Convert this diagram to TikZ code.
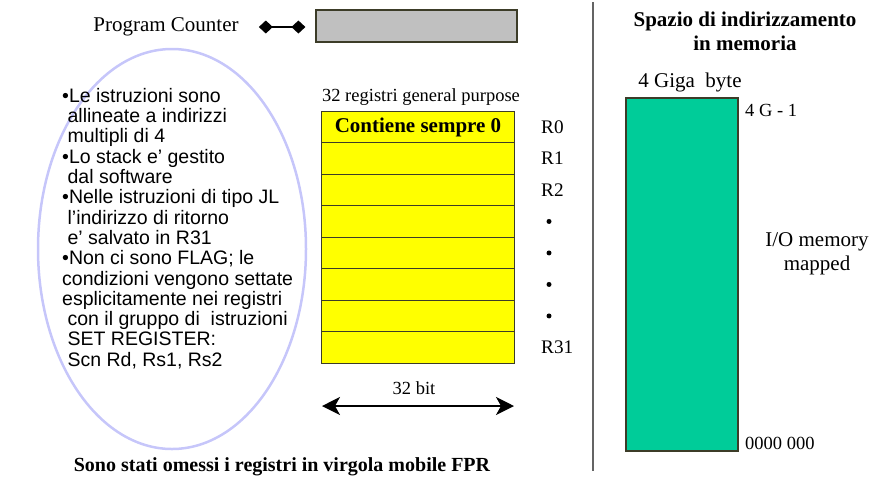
\documentclass[tikz,border=0pt]{standalone}
\usepackage{fontspec}
\setmainfont{Liberation Serif}
\newfontfamily\arialfont{Liberation Sans}
\usetikzlibrary{arrows.meta,shapes.geometric}

\definecolor{regfill}{RGB}{255,255,0}
\definecolor{regedge}{RGB}{60,60,40}
\definecolor{pcfill}{RGB}{192,192,192}
\definecolor{memfill}{RGB}{0,204,153}
\definecolor{ringcol}{RGB}{198,198,250}
\definecolor{sepcol}{RGB}{100,100,100}

\newcommand\leadsp{\hspace*{0.278em}}

\begin{document}
\begin{tikzpicture}[x=1pt,y=-1pt,
  lbl/.style={inner sep=0pt, font=\fontsize{18.5}{22}\selectfont},
  reglbl/.style={inner sep=0pt, font=\fontsize{19.2}{22}\selectfont},
  biglbl/.style={inner sep=0pt, font=\fontsize{21}{24}\selectfont},
  boldlbl/.style={inner sep=0pt, font=\fontsize{21}{24}\selectfont\bfseries},
  regrow/.style={draw=regedge, fill=regfill, line width=1pt,
    minimum width=193pt, minimum height=31.5pt, inner sep=0pt, anchor=north west},
  dotmark/.style={circle, fill=black, inner sep=0pt, minimum size=5pt},
  boxedge/.style={draw=regedge, line width=1.2pt, inner sep=0pt},
  pcconn/.style={line width=2pt, {Diamond[length=14pt,width=13pt]}-{Diamond[length=14pt,width=13pt]}},
  widtharrow/.style={line width=1.8pt, {Stealth[length=18pt,width=18pt,inset=5pt]}-{Stealth[length=18pt,width=18pt,inset=5pt]}},
]
\useasboundingbox (0,0) rectangle (874,480);

% program counter
\node[biglbl] (pclab) at (166,27) {Program Counter};
\node[boxedge, fill=pcfill, minimum width=201pt, minimum height=32pt] (pc) at (416.5,26) {};
\draw[pcconn, shorten <=20pt, shorten >=10pt] (pclab.east) -- (pclab.east -| pc.west);

% notes inside the ellipse
\node[draw=ringcol, line width=2.5pt, ellipse, minimum width=268pt, minimum height=400pt, inner sep=0pt] (ring) at (172,249) {};
\node[anchor=north west, inner sep=0pt, align=left,
      font=\arialfont\fontsize{19.5}{20.3}\selectfont] (notes) at (62,88) {%
•Le istruzioni sono\\
\leadsp allineate a indirizzi\\
\leadsp multipli di 4\\
•Lo stack e’ gestito\\
\leadsp dal software\\
•Nelle istruzioni di tipo JL\\
\leadsp l’indirizzo di ritorno\\
\leadsp e’ salvato in R31\\
•Non ci sono FLAG; le\\
condizioni vengono settate\\
esplicitamente nei registri\\
\leadsp con il gruppo di\ \ istruzioni\\
\leadsp SET REGISTER:\\
\leadsp Scn Rd, Rs1, Rs2};

% general purpose registers
\node[lbl] (gptitle) at (421,97) {32 registri general purpose};
\node[regrow, font=\fontsize{21}{24}\selectfont\bfseries] (r0) at (321,110.7) {Contiene sempre 0};
\foreach \i in {1,...,7}
  \node[regrow] (r\i) at (321,110.7+31.5*\i) {};

\node[reglbl, anchor=west] (lab0) at ([xshift=26pt]r0.east) {R0};
\node[reglbl, anchor=west] (lab1) at ([xshift=26pt]r1.east) {R1};
\node[reglbl, anchor=west] (lab2) at ([xshift=26pt]r2.east) {R2};
\foreach \i in {3,...,6}
  \node[dotmark] (dot\i) at ([xshift=34pt]r\i.east) {};
\node[reglbl, anchor=west] (lab31) at ([xshift=26pt]r7.east) {R31};

% register width
\coordinate (bitL) at (322,406);
\coordinate (bitR) at (514,406);
\draw[widtharrow] (bitL) -- (bitR);
\node[lbl] (bitlab) at (414,388) {32 bit};

\node[inner sep=0pt, font=\fontsize{20}{24}\selectfont\bfseries] (omitted) at (282,467)
  {Sono stati omessi i registri in virgola mobile FPR};

% separator
\coordinate (sepTop) at (593,2);
\coordinate (sepBot) at (593,471);
\draw[sepcol, line width=1.4pt] (sepTop) -- (sepBot);

% memory address space
\node[boldlbl, align=center] (memtitle) at (745,31) {Spazio di indirizzamento\\in memoria};
\node[biglbl] (memsize) at (690,82) {4 Giga\ \ byte};
\node[boxedge, fill=memfill, minimum width=112pt, minimum height=353pt] (mem) at (682,274.5) {};
\node[lbl, anchor=west] (memtop) at (745,110) {4 G - 1};
\node[lbl, anchor=west] (membot) at (745,443) {0000 000};
\node[biglbl, align=center] (memio) at (817,254) {I/O memory\\mapped};
\end{tikzpicture}
\end{document}
